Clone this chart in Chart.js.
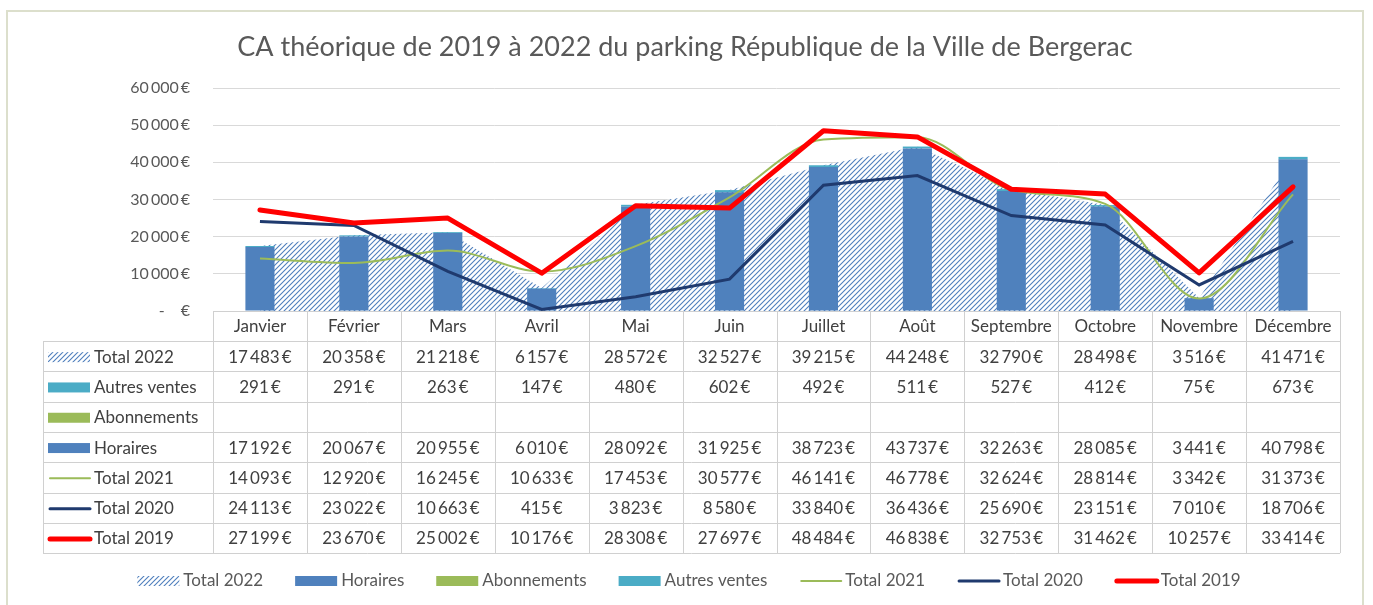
<!DOCTYPE html>
<html lang="fr">
<head>
<meta charset="utf-8">
<title>CA théorique parking République</title>
<script src="https://cdn.jsdelivr.net/npm/chart.js@4"></script>
<style>
  html, body { margin: 0; padding: 0; background: #fff; }
  #graphique { display: block; }
</style>
</head>
<body>
<canvas id="graphique" width="1373" height="605"></canvas>
<script>
const titre = "CA théorique de 2019 à 2022 du parking République de la Ville de Bergerac";

const mois = ["Janvier", "Février", "Mars", "Avril", "Mai", "Juin", "Juillet", "Août", "Septembre", "Octobre", "Novembre", "Décembre"];

const total2022 = [17483, 20358, 21218, 6157, 28572, 32527, 39215, 44248, 32790, 28498, 3516, 41471];
const horaires = [17192, 20067, 20955, 6010, 28092, 31925, 38723, 43737, 32263, 28085, 3441, 40798];
const abonnements = [null, null, null, null, null, null, null, null, null, null, null, null];
const autresVentes = [291, 291, 263, 147, 480, 602, 492, 511, 527, 412, 75, 673];
const total2021 = [14093, 12920, 16245, 10633, 17453, 30577, 46141, 46778, 32624, 28814, 3342, 31373];
const total2020 = [24113, 23022, 10663, 415, 3823, 8580, 33840, 36436, 25690, 23151, 7010, 18706];
const total2019 = [27199, 23670, 25002, 10176, 28308, 27697, 48484, 46838, 32753, 31462, 10257, 33414];

const ticksY = [0, 10000, 20000, 30000, 40000, 50000, 60000];

// lignes du tableau de données, dans l'ordre d'Excel
const lignesTableau = ["Total 2022", "Autres ventes", "Abonnements", "Horaires", "Total 2021", "Total 2020", "Total 2019"];

const POLICE = "Lato, 'Open Sans', sans-serif";
const GRIS_TEXTE = "#595959";
const GRIS_TABLE = "#404040";
const GRIS_TRAIT = "#d9d9d9";

function euros(v) {
  if (v === null || v === undefined) return "";
  return String(v).replace(/\B(?=(\d{3})+(?!\d))/g, "\u2009") + "\u2009€";
}

// motif hachuré pour la zone Total 2022
function hachures() {
  const c = document.createElement("canvas");
  c.width = 5;
  c.height = 5;
  const g = c.getContext("2d");
  g.fillStyle = "#ffffff";
  g.fillRect(0, 0, 5, 5);
  g.strokeStyle = "#4f7fbd";
  g.lineWidth = 1.1;
  g.beginPath();
  g.moveTo(0, 5); g.lineTo(5, 0);
  g.moveTo(-1, 1); g.lineTo(1, -1);
  g.moveTo(4, 6); g.lineTo(6, 4);
  g.stroke();
  return g.createPattern(c, "repeat");
}

const ctx = document.getElementById("graphique").getContext("2d");
const motif = hachures();

// dessine la clé d'une série (tableau et légende)
function cle(g, ds, x, y, w) {
  g.save();
  if (ds.type === "line" && ds.fill) {
    g.fillStyle = motif;
    g.fillRect(x, y - 5, w, 10);
  } else if (ds.type === "line") {
    g.strokeStyle = ds.borderColor;
    g.lineWidth = ds.borderWidth;
    g.lineCap = "round";
    g.beginPath();
    g.moveTo(x + 2, y);
    g.lineTo(x + w, y);
    g.stroke();
  } else {
    g.fillStyle = ds.backgroundColor;
    g.fillRect(x, y - 5, w, 10);
  }
  g.restore();
}

const decor = {
  id: "decor",
  beforeDraw(chart) {
    const g = chart.ctx;
    g.save();
    g.fillStyle = "#fff";
    g.fillRect(0, 0, chart.width, chart.height);
    g.strokeStyle = "#dcdfcc";
    g.lineWidth = 2;
    g.strokeRect(7, 11, 1356, 620);
    g.fillStyle = GRIS_TEXTE;
    g.font = "27px " + POLICE;
    g.textAlign = "center";
    g.textBaseline = "middle";
    g.fillText(titre, 685, 47);
    g.restore();
  },
  afterDraw(chart) {
    const g = chart.ctx;
    const ca = chart.chartArea;
    const sx = chart.scales.x;
    const n = mois.length;
    const colW = (ca.right - ca.left) / n;
    const hautEntete = ca.bottom;
    const hautLignes = hautEntete + 30;
    const hLigne = 30.3;
    const bas = hautLignes + hLigne * lignesTableau.length;
    const gauche = 43;

    g.save();
    g.strokeStyle = "#d0d0d0";
    g.lineWidth = 1;
    g.beginPath();
    for (let i = 0; i <= n; i++) {
      const x = Math.round(ca.left + i * colW) + 0.5;
      g.moveTo(x, hautEntete);
      g.lineTo(x, bas);
    }
    g.moveTo(gauche + 0.5, hautLignes);
    g.lineTo(gauche + 0.5, bas);
    g.moveTo(ca.left, Math.round(hautEntete) + 0.5);
    g.lineTo(ca.right, Math.round(hautEntete) + 0.5);
    for (let r = 0; r <= lignesTableau.length; r++) {
      const y = Math.round(hautLignes + r * hLigne) + 0.5;
      g.moveTo(gauche, y);
      g.lineTo(ca.right, y);
    }
    g.stroke();

    g.fillStyle = GRIS_TABLE;
    g.font = "17px " + POLICE;
    g.textAlign = "center";
    g.textBaseline = "middle";
    mois.forEach((m, i) => {
      g.fillText(m, sx.getPixelForValue(i), hautEntete + 16);
    });

    const datasets = chart.data.datasets;
    lignesTableau.forEach((nom, r) => {
      const ds = datasets.find(d => d.label === nom);
      const yc = hautLignes + r * hLigne + hLigne / 2 + 1;
      cle(g, ds, 48, yc, 42);
      g.fillStyle = GRIS_TABLE;
      g.textAlign = "left";
      g.fillText(nom, 94, yc);
      g.textAlign = "center";
      ds.data.forEach((v, i) => {
        g.fillText(euros(v), sx.getPixelForValue(i), yc);
      });
    });

    // légende en bas
    g.font = "17px " + POLICE;
    const largeurs = datasets.map(d => 42 + 4 + g.measureText(d.label).width);
    const ecart = 32;
    const total = largeurs.reduce((a, b) => a + b, 0) + ecart * (datasets.length - 1);
    let x = 689 - total / 2;
    const yl = 581;
    datasets.forEach((ds, i) => {
      cle(g, ds, x, yl, 42);
      g.fillStyle = GRIS_TEXTE;
      g.textAlign = "left";
      g.fillText(ds.label, x + 46, yl);
      x += largeurs[i] + ecart;
    });
    g.restore();
  }
};

new Chart(ctx, {
  type: "bar",
  data: {
    labels: mois,
    datasets: [
      {
        type: "line",
        label: "Total 2022",
        data: total2022,
        fill: "origin",
        backgroundColor: motif,
        borderColor: "rgba(0,0,0,0)",
        borderWidth: 0,
        pointRadius: 0,
        tension: 0,
        stack: "t2022",
        order: 10
      },
      {
        label: "Horaires",
        data: horaires,
        backgroundColor: "#4f81bd",
        stack: "ca",
        order: 5,
        categoryPercentage: 1,
        barPercentage: 0.31
      },
      {
        label: "Abonnements",
        data: abonnements,
        backgroundColor: "#9bbb59",
        stack: "ca",
        order: 5,
        categoryPercentage: 1,
        barPercentage: 0.31
      },
      {
        label: "Autres ventes",
        data: autresVentes,
        backgroundColor: "#4bacc6",
        stack: "ca",
        order: 5,
        categoryPercentage: 1,
        barPercentage: 0.31
      },
      {
        type: "line",
        label: "Total 2021",
        data: total2021,
        borderColor: "#9bbb59",
        borderWidth: 2,
        pointRadius: 0,
        cubicInterpolationMode: "monotone",
        fill: false,
        stack: "t2021",
        order: 3
      },
      {
        type: "line",
        label: "Total 2020",
        data: total2020,
        borderColor: "#1f3a6e",
        borderWidth: 3,
        pointRadius: 0,
        tension: 0,
        fill: false,
        stack: "t2020",
        order: 2
      },
      {
        type: "line",
        label: "Total 2019",
        data: total2019,
        borderColor: "#ff0000",
        borderWidth: 5,
        borderJoinStyle: "round",
        borderCapStyle: "round",
        pointRadius: 0,
        tension: 0,
        fill: false,
        stack: "t2019",
        order: 1
      }
    ]
  },
  options: {
    responsive: false,
    animation: false,
    layout: { padding: { top: 88, bottom: 294, right: 33, left: 0 } },
    plugins: {
      legend: { display: false },
      tooltip: { enabled: false },
      title: { display: false }
    },
    scales: {
      x: {
        display: false,
        stacked: true,
        offset: true
      },
      y: {
        stacked: true,
        min: 0,
        max: 60000,
        afterBuildTicks: (s) => { s.ticks = ticksY.map(v => ({ value: v })); },
        afterFit: (s) => { s.width = 213; },
        border: { display: false },
        grid: { color: GRIS_TRAIT, drawTicks: false, lineWidth: 1 },
        ticks: {
          color: GRIS_TEXTE,
          padding: 23,
          font: { family: POLICE, size: 16 },
          callback: (v) => v === 0 ? "-\u2003 €" : euros(v)
        }
      }
    }
  },
  plugins: [decor]
});
</script>
</body>
</html>
